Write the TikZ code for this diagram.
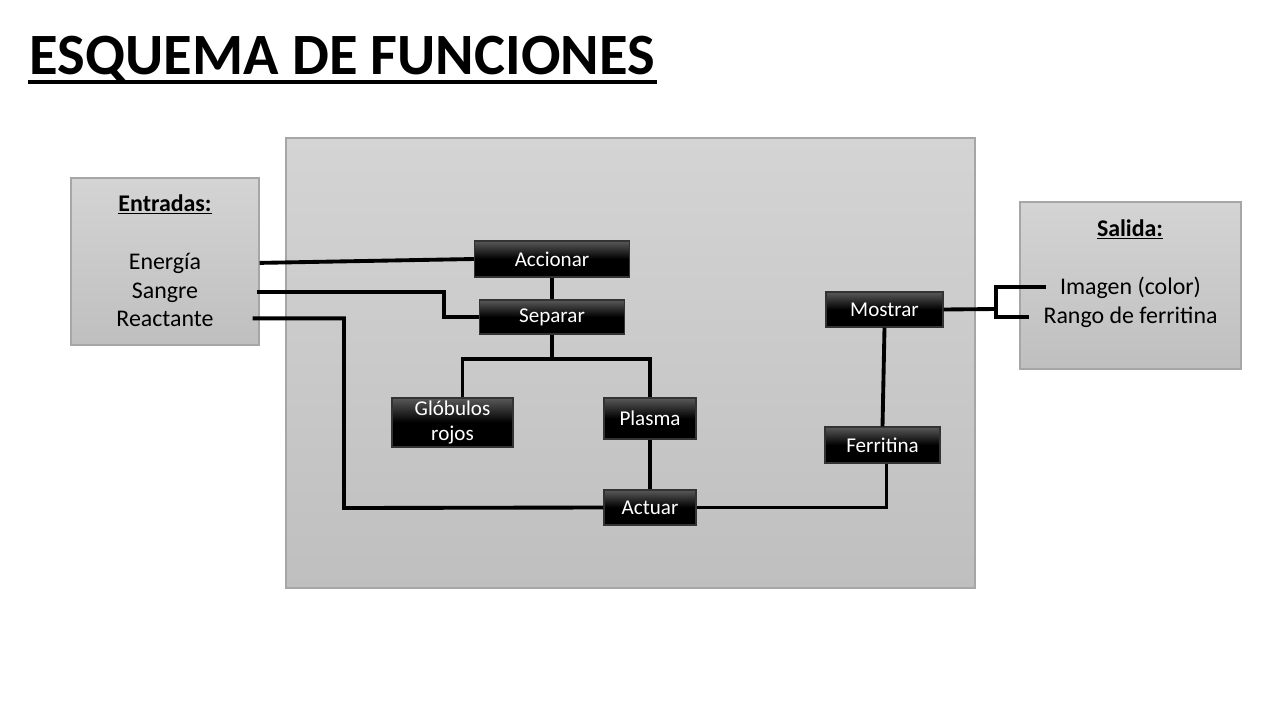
\documentclass[tikz,border=0pt]{standalone}
\usepackage{fontspec}
\setmainfont{Carlito}
\usetikzlibrary{calc}
\definecolor{cpanel}{HTML}{D4D4D4}
\definecolor{cpaneldk}{HTML}{BFBFBF}
\definecolor{cedge}{HTML}{A6A6A6}
\tikzset{
  every picture/.style={line width=2.2pt},
  panel/.style={draw=cedge, line width=0.7pt, top color=cpanel, bottom color=cpaneldk, inner sep=0pt},
  fn/.style={draw=black!80, line width=0.6pt, top color=black!65, bottom color=black, middle color=black, text=white, align=center, inner sep=0pt, font=\fontsize{12}{14.5}\selectfont},
  txt/.style={anchor=base, inner sep=0pt, font=\fontsize{13.6}{16}\selectfont},
  wire/.style={draw=black, line width=2.2pt},
  title/.style={anchor=base west, inner sep=0pt, font=\fontsize{33.3}{40}\selectfont\bfseries},
}

\begin{document}
\begin{tikzpicture}[x=0.02cm, y=-0.02cm]
  \useasboundingbox (0,0) rectangle (1280,720);
  % ---- title
  \node[title] (title) at (28,74) {ESQUEMA DE FUNCIONES};
  \draw[line width=1.8pt] ($(title.base west)+(0,8)$) -- ($(title.base east)+(0,8)$);
  % ---- panels
  \node[panel, minimum width=13.78cm, minimum height=9cm] (sistema) at (630.5,363) {};
  \node[panel, minimum width=3.76cm, minimum height=3.34cm] (entradas) at (165,261.5) {};
  \node[panel, minimum width=4.42cm, minimum height=3.34cm] (salida) at (1130.5,285.5) {};
  % ---- inputs
  \node[txt, font=\fontsize{13.6}{16}\selectfont\bfseries] (entradas-t) at (165,211) {\underline{Entradas:}};
  \node[txt] (energia) at (165,269) {Energía};
  \node[txt] (sangre) at (165,298) {Sangre};
  \node[txt] (reactante) at (165,326) {Reactante};
  % ---- outputs
  \node[txt, font=\fontsize{13.6}{16}\selectfont\bfseries] (salida-t) at (1130,236) {\underline{Salida:}};
  \node[txt, inner xsep=0.24cm] (imagen) at (1130.5,294) {Imagen (color)};
  \node[txt, inner xsep=0.26cm] (rango) at (1130.5,323) {Rango de ferritina};
  % ---- functions
  \node[fn, minimum width=3.1cm, minimum height=0.72cm] (accionar) at (552,259) {Accionar};
  \node[fn, minimum width=2.9cm, minimum height=0.68cm] (separar) at (552,317) {Separar};
  \node[fn, minimum width=2.42cm, minimum height=0.98cm] (globulos) at (452.5,422.5) {Glóbulos\\rojos};
  \node[fn, minimum width=1.84cm, minimum height=0.82cm] (plasma) at (650,418.5) {Plasma};
  \node[fn, minimum width=1.84cm, minimum height=0.7cm] (actuar) at (650,507.5) {Actuar};
  \node[fn, minimum width=2.34cm, minimum height=0.7cm] (mostrar) at (884.5,309.5) {Mostrar};
  \node[fn, minimum width=2.3cm, minimum height=0.72cm] (ferritina) at (882.5,445) {Ferritina};
  % ---- bends
  \coordinate (k-sangre) at (444,317);
  \coordinate (k-react) at (344,508);
  \coordinate (split) at (552,359);
  \coordinate (fork) at (996,309);
  % ---- connectors
  \draw[wire] (entradas.east |- energia) -- (accionar.west);
  \draw[wire] ([xshift=-0.06cm]entradas.east |- sangre) -| (k-sangre) -- (separar.west);
  \draw[wire] ([xshift=-0.14cm]entradas.east |- reactante) -| (k-react) -- (actuar.west);
  \draw[wire] (accionar) -- (separar);
  \draw[wire] (separar.south) -- (split);
  \draw[wire] ([xshift=0.2cm]globulos.north) |- (split) -| (plasma.north);
  \draw[wire] (plasma) -- (actuar);
  \draw[wire] (actuar.east) -| ([xshift=0.08cm]ferritina.south);
  \draw[wire] (ferritina.north) -- (mostrar.south);
  \draw[wire] (mostrar.east) -- (fork);
  \draw[wire] (imagen.west) -| (fork) |- (rango.west);
\end{tikzpicture}
\end{document}
